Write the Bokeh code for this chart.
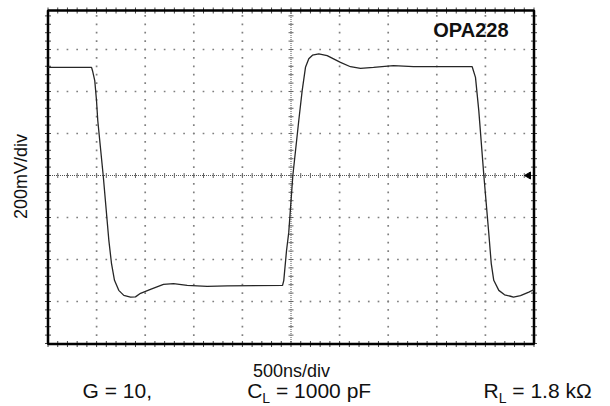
import numpy as np
from bokeh.plotting import figure
from bokeh.models import Label, Range1d
from bokeh.embed import file_html
from bokeh.resources import INLINE

# ---- data ----
time_ns = [0, 448, 458, 481, 499, 512, 568, 626, 653, 684, 728, 780, 849, 900, 952,
           1054, 1188, 1291, 1432, 1638, 1844, 2413, 2426, 2454, 2477, 2519, 2580,
           2615, 2649, 2683, 2721, 2786, 2872, 3009, 3112, 3215, 3349, 3554, 3760,
           4364, 4398, 4432, 4484, 4535, 4560, 4586, 4638, 4697, 4758, 4789, 4861,
           4947, 5000]
volt_mV = [515, 515, 499, 452, 357, 262, 0, -309, -418, -499, -547, -571, -579, -578,
           -561, -542, -518, -515, -523, -528, -526, -523, -499, -357, -271, 0, 262,
           404, 515, 556, 573, 579, 571, 539, 518, 510, 515, 523, 518, 518, 467, 309,
           0, -276, -418, -499, -547, -568, -575, -579, -572, -555, -543]

x_div_ns = [0, 500, 1000, 1500, 2000, 2500, 3000, 3500, 4000, 4500, 5000]
y_div_mV = [-800, -600, -400, -200, 0, 200, 400, 600, 800]
minor_per_div = 5
ground_level = [0]

title_text = "OPA228"
x_caption = "500ns/div"
y_caption = "200mV/div"

# ---- layout (page pixels) ----
W, H = 610, 406
GL, GR = 47.5, 533.5             # graticule left / right edge
GC, GT, GB = 175.0, 10.0, 343.5  # centre line, top, bottom
PX_PER_DIV_Y = 42.0
NS_PER_PX = (x_div_ns[-1] - x_div_ns[0]) / (GR - GL)
MV_PER_PX = (y_div_mV[1] - y_div_mV[0]) / PX_PER_DIV_Y


def dx(px):
    return x_div_ns[0] + (px - GL) * NS_PER_PX


def dy(py):
    return (GC - py) * MV_PER_PX


g_top = dy(GT)
g_bot = dy(GB)

p = figure(width=W, height=H, x_range=Range1d(dx(0), dx(W)), y_range=Range1d(dy(H), dy(0)),
           output_backend="svg", toolbar_location=None,
           x_axis_location=None, y_axis_location=None, min_border=0)
p.background_fill_color = "white"
p.border_fill_color = "white"
p.outline_line_color = None
p.xgrid.grid_line_color = None
p.ygrid.grid_line_color = None

x_step = (x_div_ns[1] - x_div_ns[0]) / minor_per_div
y_step = (y_div_mV[1] - y_div_mV[0]) / minor_per_div
x_minor = [v for v in np.arange(x_div_ns[0], x_div_ns[-1] + 1e-6, x_step)]
y_minor = [v for v in np.arange(y_div_mV[0], y_div_mV[-1] + 1e-6, y_step)
           if g_bot - 1e-6 <= v <= g_top]

# dotted graticule
x_center = x_div_ns[len(x_div_ns) // 2]
y_center = y_div_mV[len(y_div_mV) // 2]
gx, gy = [], []
for xv in x_div_ns[1:-1]:
    if xv == x_center:
        continue
    for yv in y_minor:
        gx.append(xv)
        gy.append(yv)
for yv in y_div_mV[1:-1]:
    if yv == y_center:
        continue
    for xv in x_minor:
        gx.append(xv)
        gy.append(yv)
p.scatter(gx, gy, marker="square", size=1.7, fill_color="#808080", line_color=None)

# centre cross with ticks
p.segment(x0=[x_div_ns[0]], y0=[y_center], x1=[x_div_ns[-1]], y1=[y_center],
          line_color="#555", line_width=1, line_dash="1 1")
p.segment(x0=[x_center], y0=[g_bot], x1=[x_center], y1=[g_top],
          line_color="#555", line_width=1, line_dash="1 1")
p.scatter(x_minor, [y_center] * len(x_minor), marker="dash", angle=np.pi / 2,
          size=5, line_color="#666", line_width=1)
p.scatter([x_center] * len(y_minor), y_minor, marker="dash",
          size=5, line_color="#666", line_width=1)

# border ticks (ruler marks on the frame)
p.scatter(x_minor, [g_bot] * len(x_minor), marker="dash", angle=np.pi / 2,
          size=6, line_color="#444", line_width=1)
p.scatter(x_minor, [g_top] * len(x_minor), marker="dash", angle=np.pi / 2,
          size=6, line_color="#444", line_width=1)
p.scatter([x_div_ns[0]] * len(y_minor), y_minor, marker="dash",
          size=6, line_color="#444", line_width=1)
p.scatter([x_div_ns[-1]] * len(y_minor), y_minor, marker="dash",
          size=6, line_color="#444", line_width=1)

# frame
p.quad(left=[x_div_ns[0]], right=[x_div_ns[-1]], bottom=[g_bot], top=[g_top],
       fill_color=None, line_color="black", line_width=2.5)

# waveform
p.line(time_ns, volt_mV, line_color="#262626", line_width=1.3)

# ground marker
p.scatter([dx(528)], ground_level, marker="triangle", angle=np.pi / 2, size=7,
          fill_color="black", line_color="black")

FONT = "Liberation Sans"


def add_text(px, py_base, txt, fs, align="left", bold=False):
    # py_base: desired baseline in page px; place by the em-box middle
    p.add_layout(Label(x=dx(px), y=dy(py_base - 0.36 * fs), text=txt, text_font=FONT,
                       text_font_size=f"{fs}px", text_align=align,
                       text_font_style="bold" if bold else "normal",
                       text_baseline="middle", text_color="#111"))


add_text(508, 36.7, title_text, 20, align="right", bold=True)
p.add_layout(Label(x=dx(20.5), y=dy(176), text=y_caption, text_font=FONT,
                   text_font_size="18px", angle=np.pi / 2, text_align="center",
                   text_baseline="middle", text_color="#111"))
add_text(291, 377, x_caption, 18, align="center")

BASE = 398
SUB = 403
MAIN_FS = 21
SUB_FS = 14
cw = 0.722 * MAIN_FS
lw = 0.556 * SUB_FS
sp = 0.278 * MAIN_FS
add_text(82, BASE, "G = 10,", MAIN_FS)
add_text(246.7, BASE, "C", MAIN_FS)
add_text(246.7 + cw, SUB, "L", SUB_FS)
add_text(246.7 + cw + lw + sp, BASE, "= 1000 pF", MAIN_FS)
add_text(483, BASE, "R", MAIN_FS)
add_text(483 + cw, SUB, "L", SUB_FS)
add_text(483 + cw + lw + sp, BASE, "= 1.8 k\u03a9", MAIN_FS)

open("out.html", "w").write(file_html(p, INLINE))
